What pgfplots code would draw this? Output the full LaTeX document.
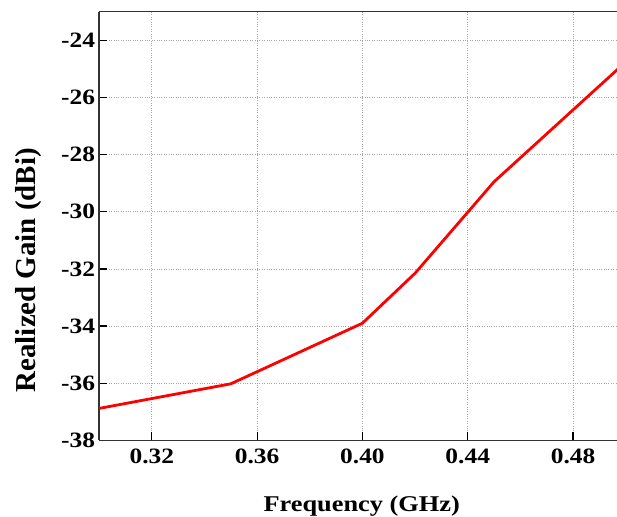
\documentclass[border=0pt]{standalone}
\usepackage{fontspec}
\setmainfont{Liberation Serif}
\usepackage{pgfplots}
\pgfplotsset{compat=1.18}
\begin{document}
\begin{tikzpicture}
\begin{axis}[
  at={(0,0)}, anchor=south west,
  scale only axis,
  width=517.8bp, height=428.7bp,
  xmin=0.30, xmax=0.4967,
  ymin=-38, ymax=-23,
  axis y line*=left,
  xtick pos=bottom,
  xtick={0.32,0.36,0.40,0.44,0.48},
  xticklabels={0.32,0.36,0.40,0.44,0.48},
  ytick={-38,-36,-34,-32,-30,-28,-26,-24},
  yticklabels={-38,-36,-34,-32,-30,-28,-26,-24},
  tick align=inside,
  major tick length=8bp,
  tick style={black, line width=1.2bp},
  axis line style={black!80, line width=1.6bp},
  grid=major,
  grid style={dotted, gray!70, line width=0.8bp},
  tick label style={font=\fontsize{22}{26}\selectfont\bfseries, xscale=1.16},
  xticklabel style={yshift=-5bp},
  xlabel={Frequency (GHz)},
  ylabel={Realized Gain (dBi)},
  xlabel style={font=\fontsize{22.6}{26}\selectfont\bfseries, xscale=1.17,
    at={([yshift=-71.3bp]axis description cs:0.507,0)}, anchor=base},
  ylabel style={font=\fontsize{29}{32}\selectfont\bfseries,
    at={([xshift=-64bp]axis description cs:0,0.397)}, anchor=base},
]
\addplot[red, line width=2.8bp] coordinates
  {(0.30,-36.88)(0.35,-36.02)(0.40,-33.90)(0.42,-32.15)(0.45,-28.95)(0.50,-24.76)};
\end{axis}
\pgfresetboundingbox
\path (-99.2bp,-76.6bp) rectangle (517.8bp,440.4bp);
\end{tikzpicture}
\end{document}
